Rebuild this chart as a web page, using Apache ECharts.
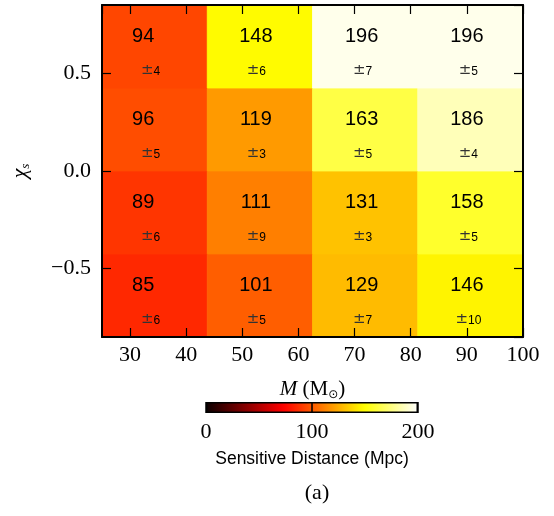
<!DOCTYPE html>
<html><head><meta charset="utf-8">
<script src="https://cdn.jsdelivr.net/npm/echarts@6/dist/echarts.min.js"></script>
<style>html,body{margin:0;padding:0;background:#fff}#c{width:554px;height:516px}</style>
</head><body><div id="c"></div>
<script>
// ---- data ----
const massEdges = [25, 43.75, 62.5, 81.25, 100];
const spinEdges = [-0.85, -0.425, 0, 0.425, 0.85];
// rows from bottom spin bin to top spin bin, columns by mass bin
const distance = [
  [85, 101, 129, 146],
  [89, 111, 131, 158],
  [96, 119, 163, 186],
  [94, 148, 196, 196]
];
const distErr = [
  [6, 5, 7, 10],
  [6, 9, 3, 5],
  [5, 3, 5, 4],
  [4, 6, 7, 5]
];
const colorbarRange = [0, 200];

// ---- style / layout ----
const numDx = [-11.5, -4, -3.5, -3.5];
const pmDx = [-4, -3.5, -2.5, -2];
const serif = '"Liberation Serif", "DejaVu Serif", serif';
const sans = '"Liberation Sans", Arial, sans-serif';

function hot(t) {
  t = Math.max(0, Math.min(1, t));
  const r = Math.min(1, 0.0416 + t * (1 - 0.0416) / 0.365079);
  const g = Math.max(0, Math.min(1, (t - 0.365079) / (0.746032 - 0.365079)));
  const b = Math.max(0, Math.min(1, (t - 0.746032) / (1 - 0.746032)));
  return 'rgb(' + Math.round(r * 255) + ',' + Math.round(g * 255) + ',' + Math.round(b * 255) + ')';
}

const cells = [];
distance.forEach((row, r) => row.forEach((v, c) => cells.push([c, r, v, distErr[r][c]])));

const stops = [];
for (let i = 0; i <= 40; i++) stops.push({ offset: i / 40, color: hot(i / 40) });

const chart = echarts.init(document.getElementById('c'), null, { renderer: 'canvas' });
const tickStyle = { show: true, inside: true, length: 9, lineStyle: { color: '#000', width: 1.2 } };
chart.setOption({
  animation: false,
  backgroundColor: '#fff',
  grid: [
    { left: 102, right: 31, top: 5, bottom: 179 },
    { left: 206, width: 212, top: 402, height: 11 }
  ],
  xAxis: [
    { type: 'value', gridIndex: 0, min: massEdges[0], max: massEdges[4], splitNumber: 8, minInterval: 10, maxInterval: 10,
      position: 'bottom', z: 10,
      axisLine: { show: true, onZero: false, lineStyle: { color: '#000', width: 2 } },
      axisTick: tickStyle, splitLine: { show: false },
      axisLabel: { color: '#000', fontFamily: serif, fontSize: 22, margin: 7, showMinLabel: false },
      name: '{i|M} (M{s|⊙})', nameLocation: 'middle', nameGap: 40,
      nameTextStyle: { color: '#000', fontFamily: serif, fontSize: 21,
        rich: { i: { fontFamily: serif, fontStyle: 'italic', fontSize: 21, color: '#000' },
                s: { fontFamily: 'DejaVu Sans', fontSize: 12, color: '#000', verticalAlign: 'bottom', padding: [12, 0, 0, 0] } } }
    },
    { type: 'value', gridIndex: 0, min: massEdges[0], max: massEdges[4], splitNumber: 8, minInterval: 10, maxInterval: 10,
      position: 'top', z: 10,
      axisLine: { show: true, onZero: false, lineStyle: { color: '#000', width: 2 } },
      axisTick: tickStyle, splitLine: { show: false }, axisLabel: { show: false }
    },
    { type: 'value', gridIndex: 1, min: colorbarRange[0], max: colorbarRange[1], interval: 100, z: 10,
      axisLine: { show: false }, splitLine: { show: false },
      axisTick: { show: true, inside: true, length: 11, lineStyle: { color: '#000', width: 1.5 } },
      axisLabel: { color: '#000', fontFamily: serif, fontSize: 22, margin: 8 },
      name: 'Sensitive Distance (Mpc)', nameLocation: 'middle', nameGap: 37,
      nameTextStyle: { color: '#000', fontFamily: sans, fontSize: 17.5 }
    }
  ],
  yAxis: [
    { type: 'value', gridIndex: 0, min: spinEdges[0], max: spinEdges[4], splitNumber: 3, minInterval: 0.5, maxInterval: 0.5,
      position: 'left', z: 10,
      axisLine: { show: true, onZero: false, lineStyle: { color: '#000', width: 2 } },
      axisTick: tickStyle, splitLine: { show: false },
      axisLabel: { color: '#000', fontFamily: serif, fontSize: 22, margin: 11, showMinLabel: false, showMaxLabel: false,
        formatter: v => (v < 0 ? '\u2212' + Math.abs(v).toFixed(1) : v.toFixed(1)) },
      name: '{c|χ}{s|s}', nameLocation: 'middle', nameGap: 70, nameRotate: 90,
      nameTextStyle: { color: '#000', rich: { c: { fontFamily: serif, fontStyle: 'italic', fontSize: 22, color: '#000' },
        s: { fontFamily: serif, fontStyle: 'italic', fontSize: 13, color: '#000', verticalAlign: 'bottom', padding: [10, 0, 0, 0] } } }
    },
    { type: 'value', gridIndex: 0, min: spinEdges[0], max: spinEdges[4], splitNumber: 3, minInterval: 0.5, maxInterval: 0.5,
      position: 'right', z: 10,
      axisLine: { show: true, onZero: false, lineStyle: { color: '#000', width: 2 } },
      axisTick: tickStyle, splitLine: { show: false }, axisLabel: { show: false }
    },
    { type: 'category', gridIndex: 1, data: ['cb'], show: false }
  ],
  series: [
    {
      type: 'custom', xAxisIndex: 0, yAxisIndex: 0, data: cells, encode: { x: 0, y: 1 }, clip: false,
      renderItem(params, api) {
        const c = api.value(0), r = api.value(1), v = api.value(2), e = api.value(3);
        const p0 = api.coord([massEdges[c], spinEdges[r + 1]]);
        const p1 = api.coord([massEdges[c + 1], spinEdges[r]]);
        const cx = (p0[0] + p1[0]) / 2, cy = (p0[1] + p1[1]) / 2;
        const col = hot(v / colorbarRange[1]);
        return { type: 'group', children: [
          { type: 'rect', shape: { x: p0[0], y: p0[1], width: p1[0] - p0[0], height: p1[1] - p0[1] },
            style: { fill: col, stroke: col, lineWidth: 0.8 } },
          { type: 'text', x: cx + numDx[c], y: cy - 10, z2: 5,
            style: { text: String(v), font: '20px ' + sans, fill: '#000', align: 'center', verticalAlign: 'middle' } },
          { type: 'text', x: cx + pmDx[c], y: cy + 23.5, z2: 5,
            style: { text: '{p|±}{n|' + e + '}', align: 'center', verticalAlign: 'middle',
              rich: { p: { fontFamily: 'DejaVu Serif', fontSize: 15, fill: '#333', verticalAlign: 'bottom' },
                      n: { fontFamily: sans, fontSize: 12, fill: '#000', verticalAlign: 'bottom' } } } }
        ] };
      }
    },
    {
      type: 'bar', xAxisIndex: 2, yAxisIndex: 2, data: [colorbarRange[1]], barWidth: '100%',
      itemStyle: { color: new echarts.graphic.LinearGradient(0, 0, 1, 0, stops), borderColor: '#000', borderWidth: 1.5 }
    }
  ],
  graphic: [
    { type: 'text', x: 317, y: 493, style: { text: '(a)', font: '22px ' + serif, fill: '#000', align: 'center', verticalAlign: 'middle' } }
  ]
});
</script></body></html>
